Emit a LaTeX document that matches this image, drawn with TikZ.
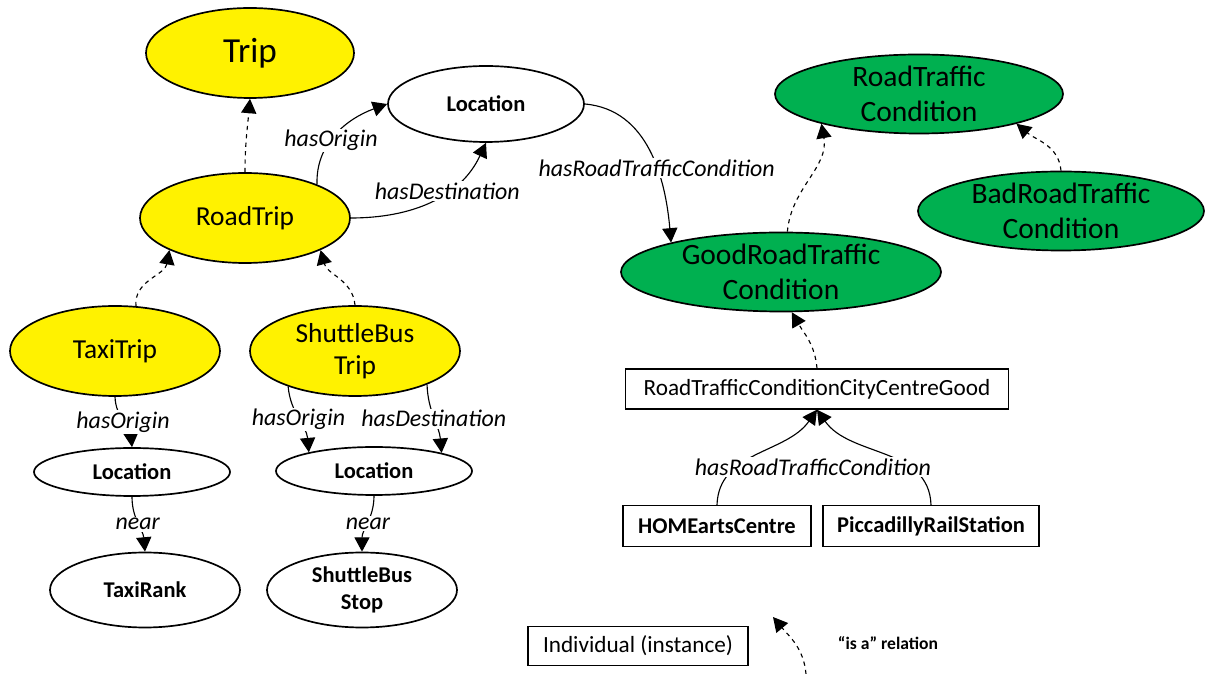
\documentclass[tikz,border=0pt]{standalone}
\usepackage{fontspec}
\setmainfont{Carlito}
\usetikzlibrary{shapes.geometric}
\usetikzlibrary{arrows.meta}
\definecolor{ogreen}{RGB}{0,176,80}

\begin{document}
\begin{tikzpicture} [x=0.025cm,y=-0.025cm,
  sz/.style 2 args={minimum width=#1*0.025cm, minimum height=#2*0.025cm},
  cls/.style={ellipse, draw, line width=1.2pt, inner sep=0pt, align=center},
  yel/.style={cls, fill=yellow, font=\fontsize{19.5}{23}\selectfont},
  grn/.style={cls, fill=ogreen, font=\fontsize{21}{25}\selectfont},
  wht/.style={cls, fill=white, font=\bfseries\fontsize{16}{19.5}\selectfont},
  inst/.style={draw, line width=1pt, inner sep=0pt, font=\fontsize{16.5}{20}\selectfont},
  rel/.style={line width=.8pt, ->, >={Triangle[length=3.6mm,width=3.8mm]}},
  isa/.style={rel, dashed},
  lbl/.style={fill=white, inner sep=1pt, font=\itshape\fontsize{17}{20}\selectfont}]
\useasboundingbox (0,0) rectangle (1205,674);

% classes
\node[yel, sz={208}{90}, font=\fontsize{25}{30}\selectfont] (trip) at (250,53) {Trip};
\node[wht, sz={196}{76}] (loc) at (486,104) {Location};
\node[yel, sz={210}{90}] (rt) at (245,218) {RoadTrip};
\node[yel, sz={210}{90}] (tt) at (115,351) {TaxiTrip};
\node[yel, sz={210}{90}] (sbt) at (355,351) {ShuttleBus\\Trip};
\node[wht, sz={196}{48}] (l1) at (132,472) {Location};
\node[wht, sz={196}{48}] (l2) at (374,471) {Location};
\node[wht, sz={190}{75}] (tr) at (145,590) {TaxiRank};
\node[wht, sz={190}{75}] (sbs) at (362,590) {ShuttleBus\\Stop};
\node[grn, sz={288}{76}] (rtc) at (919,94) {RoadTraffic\\Condition};
\node[grn, sz={286}{76}] (bad) at (1061,211) {BadRoadTraffic\\Condition};
\node[grn, sz={320}{78}] (good) at (781,272) {GoodRoadTraffic\\Condition};

% individuals
\node[inst, sz={383}{40}] (rc) at (817,389) {RoadTrafficConditionCityCentreGood};
\node[inst, sz={188}{41}, font=\bfseries\fontsize{16}{20}\selectfont] (home) at (717,526) {HOMEartsCentre};
\node[inst, sz={216}{41}, font=\bfseries\fontsize{16}{20}\selectfont] (pic) at (931,526) {PiccadillyRailStation};

% is-a links
\draw[isa] (rt.north) to[out=90,in=-95] (trip.south);
\draw[isa] (tt.65) to[out=95,in=-100] (rt.203);
\draw[isa] (sbt.north) to[out=95,in=-75] (rt.337);
\draw[isa] (good.81) to[out=85,in=-80] (rtc.197);
\draw[isa] (bad.north) to[out=95,in=-40] (rtc.343);
\draw[isa] (rc.north) to[out=95,in=-60] (good.285);

% properties
\draw[rel] (rt.25) to[out=92,in=200] node[lbl,pos=.42]{hasOrigin} (loc.west);
\draw[rel] (rt.east) to[out=0,in=-115] node[lbl,pos=.62]{hasDestination} (loc.south);
\draw[rel] (loc.east) to[out=-5,in=95] node[lbl,pos=.6]{hasRoadTrafficCondition} (good.165);
\draw[rel] (tt.south) to[out=-88,in=95] node[lbl]{hasOrigin} (l1.north);
\draw[rel] (sbt.208) to[out=-85,in=95] node[lbl]{hasOrigin} (l2.164);
\draw[rel] (sbt.335) to[out=-88,in=95] node[lbl]{hasDestination} (l2.15);
\draw[rel] (l1.south) to[out=-90,in=95] node[lbl]{near} (tr.north);
\draw[rel] (l2.south) to[out=-90,in=90] node[lbl]{near} (sbs.north);
\draw[rel] (home.north) to[out=88,in=-125] (rc.south);
\draw[rel] (pic.north) to[out=92,in=-55] (rc.south);
\node[lbl] (hrtc) at (813,467) {hasRoadTrafficCondition};

% legend
\node[inst, sz={220}{39}] (ind) at (638,646) {Individual (instance)};
\coordinate (isa0) at (806,674);
\coordinate (isa1) at (773,617);
\draw[isa] (isa0) to[out=95,in=-50] (isa1);
\node[font=\bfseries\fontsize{12.5}{15}\selectfont] (isatxt) at (888,643) {“is a” relation};
\end{tikzpicture}
\end{document}
